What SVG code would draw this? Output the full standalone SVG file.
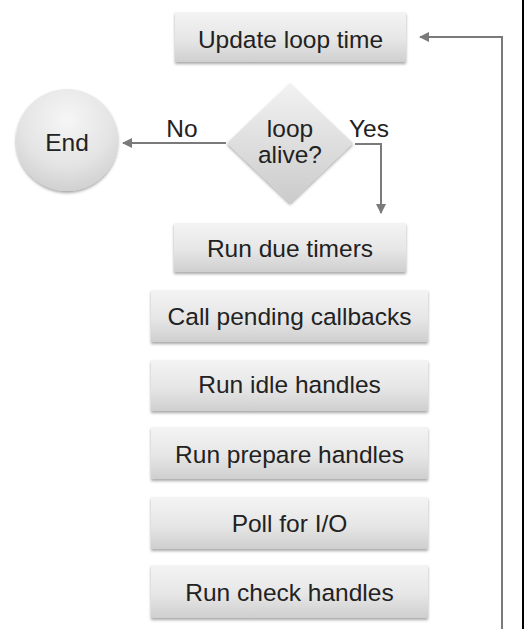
<svg xmlns="http://www.w3.org/2000/svg" width="524" height="629" viewBox="0 0 524 629">
<defs>
<linearGradient id="gb" x1="0" y1="0" x2="0" y2="1">
<stop offset="0" stop-color="#f4f4f4"/>
<stop offset="0.55" stop-color="#e6e6e6"/>
<stop offset="1" stop-color="#cfcfcf"/>
</linearGradient>
<radialGradient id="gc" cx="0.5" cy="0.3" r="0.75">
<stop offset="0" stop-color="#f6f6f6"/>
<stop offset="0.6" stop-color="#e4e4e4"/>
<stop offset="1" stop-color="#cdcdcd"/>
</radialGradient>
<linearGradient id="gd" x1="0" y1="0" x2="0" y2="1">
<stop offset="0" stop-color="#f2f2f2"/>
<stop offset="1" stop-color="#cbcbcb"/>
</linearGradient>
<filter id="sh" x="-10%" y="-20%" width="120%" height="150%">
<feGaussianBlur in="SourceAlpha" stdDeviation="1.5"/>
<feOffset dy="2" result="b"/>
<feComponentTransfer><feFuncA type="linear" slope="0.35"/></feComponentTransfer>
<feMerge><feMergeNode/><feMergeNode in="SourceGraphic"/></feMerge>
</filter>
<marker id="ah" viewBox="0 0 10 10" refX="9" refY="5" markerWidth="10" markerHeight="10" markerUnits="userSpaceOnUse" orient="auto">
<path d="M0,0 L10,5 L0,10 Z" fill="#7a7a7a"/>
</marker>
</defs>
<style>
.box{fill:url(#gb);filter:url(#sh)}
.t{font-family:"Liberation Sans",Arial,sans-serif;font-size:24.5px;fill:#222222;text-anchor:middle}
.c{fill:none;stroke:#7a7a7a;stroke-width:2}
</style>
<rect x="0" y="0" width="524" height="629" fill="#ffffff"/>
<rect x="522" y="0" width="2" height="629" fill="#000000"/>
<g id="connectors">
<path class="c" d="M502,629 L502,37 L420,37" marker-end="url(#ah)"/>
<path class="c" d="M226,143 L123,143" marker-end="url(#ah)"/>
<path class="c" d="M355,144 L381,144 L381,213" marker-end="url(#ah)"/>
</g>
<g id="n-update"><rect class="box" x="175" y="12" width="231" height="50"/><text class="t" x="290.5" y="48">Update loop time</text></g>
<g id="n-end"><circle cx="67" cy="140" r="51" fill="url(#gc)" filter="url(#sh)"/><text class="t" x="67" y="151">End</text></g>
<g id="n-alive"><polygon points="290,83 353,143 290,203 227,143" fill="url(#gd)" filter="url(#sh)"/><text class="t" x="290" y="137">loop</text><text class="t" x="290" y="163">alive?</text></g>
<g id="l-no"><text class="t" x="182" y="137">No</text></g>
<g id="l-yes"><text class="t" x="369" y="137">Yes</text></g>
<g id="n-timers"><rect class="box" x="174" y="223" width="232" height="49"/><text class="t" x="290" y="257">Run due timers</text></g>
<g id="n-pending"><rect class="box" x="151" y="290" width="277" height="52"/><text class="t" x="289.5" y="325">Call pending callbacks</text></g>
<g id="n-idle"><rect class="box" x="151" y="360" width="277" height="51"/><text class="t" x="289.5" y="393">Run idle handles</text></g>
<g id="n-prepare"><rect class="box" x="151" y="427" width="277" height="52"/><text class="t" x="289.5" y="463">Run prepare handles</text></g>
<g id="n-poll"><rect class="box" x="151" y="497" width="277" height="52"/><text class="t" x="289.5" y="532">Poll for I/O</text></g>
<g id="n-check"><rect class="box" x="151" y="565" width="277" height="53"/><text class="t" x="289.5" y="601">Run check handles</text></g>
</svg>
